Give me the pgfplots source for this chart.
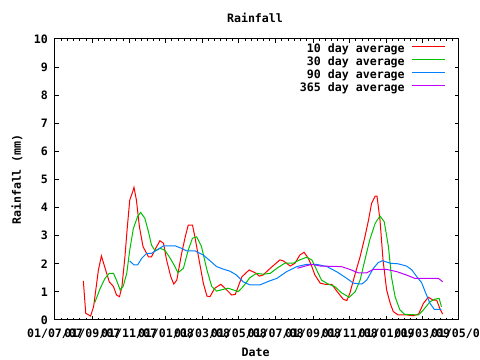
\documentclass[border=0pt]{standalone}
\usepackage{pgfplots}
\pgfplotsset{compat=1.18}
\usepackage{fontspec}
\setmainfont{DejaVu Sans Mono}
\definecolor{gpred}{RGB}{255,0,0}
\definecolor{gpgreen}{RGB}{0,192,0}
\definecolor{gpblue}{RGB}{0,128,255}
\definecolor{gppurple}{RGB}{192,0,255}
\begin{document}
\fontsize{8.7}{10}\selectfont\bfseries
\begin{tikzpicture}[font=\fontsize{8.7}{10}\selectfont\bfseries]
\begin{axis}[
  at={(0,0)}, anchor=south west,
  scale only axis, width=303pt, height=210.75pt,
  xmin=0, xmax=670, ymin=0, ymax=10,
  axis line style={line width=0.75pt, black},
  xtick={0,62,123,184,244,305,366,428,489,550,609,670},
  xticklabels={01/07/07,01/09/07,01/11/07,01/01/08,01/03/08,01/05/08,01/07/08,01/09/08,01/11/08,01/01/09,01/03/09,01/05/09},
  minor xtick={10.33,20.67,31,41.33,51.67,72.17,82.33,92.5,102.67,112.83,133.17,143.33,153.5,163.67,173.83,194,204,214,224,234,254.17,264.33,274.5,284.67,294.83,315.17,325.33,335.5,345.67,355.83,376.33,386.67,397,407.33,417.67,438.17,448.33,458.5,468.67,478.83,499.17,509.33,519.5,529.67,539.83,559.83,569.67,579.5,589.33,599.17,619.17,629.33,639.5,649.67,659.83},
  ytick={0,1,2,3,4,5,6,7,8,9,10},
  yticklabels={0,1,2,3,4,5,6,7,8,9,10},
  tick align=inside,
  major tick length=3pt, minor tick length=1.5pt,
  tick style={black, line width=0.75pt},
  xticklabel style={anchor=base, yshift=-13.5pt},
  yticklabel style={anchor=east, xshift=-2.25pt},
  title={Rainfall},
  title style={at={(axis description cs:0.5,1)}, anchor=base, yshift=6pt, xshift=-1.5pt},
  xlabel={Date},
  xlabel style={at={(axis description cs:0.5,0)}, anchor=center, yshift=-24.5pt, xshift=-1pt},
  ylabel={Rainfall (mm)},
  ylabel style={at={(axis description cs:-0.094,0.5)}, anchor=center},
  legend style={at={(axis description cs:1,1)}, anchor=north east, xshift=-9.75pt, yshift=-3.25pt,
     draw=none, fill=none, inner sep=0pt, row sep=0pt,
     nodes={inner sep=0pt, text height=6.5pt, text depth=3.25pt}},
  legend cell align=right,
  legend plot pos=right,
  legend image code/.code={\path (0pt,2.6pt); \draw[#1] (5.25pt,2.6pt) -- (30pt,2.6pt);},
  every axis plot/.append style={line width=0.75pt},
]
\addplot[gpred] coordinates {(47,1.39)(51,0.24)(59,0.14)(64,0.47)(72,1.78)(77,2.28)(83,1.85)(90,1.36)(97,1.19)(102,0.89)(107,0.83)(111,1.19)(116,2.25)(120,3.32)(124,4.27)(129,4.57)(131,4.72)(135,4.27)(140,3.32)(146,2.61)(155,2.25)(160,2.25)(167,2.55)(174,2.82)(180,2.73)(185,2.14)(192,1.54)(197,1.28)(202,1.42)(210,2.37)(216,2.96)(221,3.38)(228,3.38)(232,2.96)(238,2.25)(246,1.31)(252,0.85)(257,0.83)(265,1.13)(275,1.27)(282,1.13)(293,0.89)(299,0.91)(310,1.54)(322,1.78)(332,1.68)(339,1.56)(345,1.60)(357,1.84)(373,2.14)(379,2.10)(390,1.92)(398,2.02)(406,2.31)(413,2.41)(420,2.20)(426,1.90)(431,1.60)(440,1.31)(448,1.27)(459,1.27)(468,1.01)(478,0.74)(484,0.69)(489,0.95)(498,1.66)(506,2.25)(514,2.96)(520,3.56)(525,4.15)(531,4.41)(534,4.41)(539,3.56)(544,2.14)(550,1.07)(556,0.59)(561,0.30)(569,0.18)(583,0.18)(594,0.15)(603,0.21)(611,0.59)(619,0.81)(627,0.71)(633,0.71)(638,0.42)(643,0.21)};
\addlegendentry{10 day average}
\addplot[gpgreen] coordinates {(66,0.62)(75,1.13)(83,1.48)(90,1.66)(97,1.66)(102,1.42)(108,1.07)(113,1.19)(119,1.66)(124,2.49)(130,3.26)(137,3.68)(142,3.83)(149,3.62)(155,3.14)(160,2.67)(166,2.46)(174,2.55)(182,2.49)(191,2.20)(199,1.90)(204,1.68)(213,1.84)(221,2.49)(228,2.91)(235,2.96)(243,2.61)(252,1.78)(260,1.19)(268,1.03)(279,1.09)(287,1.13)(296,1.07)(304,1.01)(312,1.19)(323,1.50)(334,1.66)(345,1.63)(357,1.66)(368,1.84)(381,2.02)(395,2.02)(406,2.14)(417,2.23)(426,2.14)(434,1.78)(442,1.42)(453,1.28)(464,1.19)(475,0.97)(488,0.81)(498,1.01)(506,1.42)(514,2.14)(522,2.85)(531,3.44)(539,3.70)(546,3.50)(553,2.61)(558,1.54)(564,0.83)(572,0.36)(580,0.20)(603,0.18)(611,0.36)(622,0.65)(630,0.74)(637,0.77)(641,0.47)};
\addlegendentry{30 day average}
\addplot[gpblue] coordinates {(124,2.10)(131,1.96)(137,1.96)(144,2.20)(152,2.37)(160,2.37)(169,2.49)(180,2.64)(199,2.64)(210,2.55)(218,2.46)(232,2.46)(246,2.31)(257,2.11)(268,1.90)(279,1.81)(290,1.74)(301,1.60)(312,1.36)(323,1.25)(340,1.25)(357,1.40)(368,1.48)(384,1.72)(401,1.90)(417,1.98)(434,1.98)(451,1.90)(467,1.72)(484,1.48)(495,1.31)(509,1.28)(517,1.42)(528,1.84)(536,2.04)(543,2.11)(556,2.02)(569,2.00)(583,1.92)(592,1.78)(600,1.54)(608,1.33)(615,0.95)(622,0.59)(629,0.38)(641,0.38)};
\addlegendentry{90 day average}
\addplot[gppurple] coordinates {(402,1.84)(415,1.92)(426,1.98)(440,1.92)(475,1.90)(489,1.80)(503,1.68)(517,1.68)(528,1.80)(550,1.80)(567,1.72)(583,1.60)(597,1.48)(636,1.48)(643,1.36)};
\addlegendentry{365 day average}
\end{axis}
\pgfresetboundingbox
\path[use as bounding box] (-41.25pt,-30pt) rectangle (318.75pt,240pt);
\end{tikzpicture}
\end{document}
